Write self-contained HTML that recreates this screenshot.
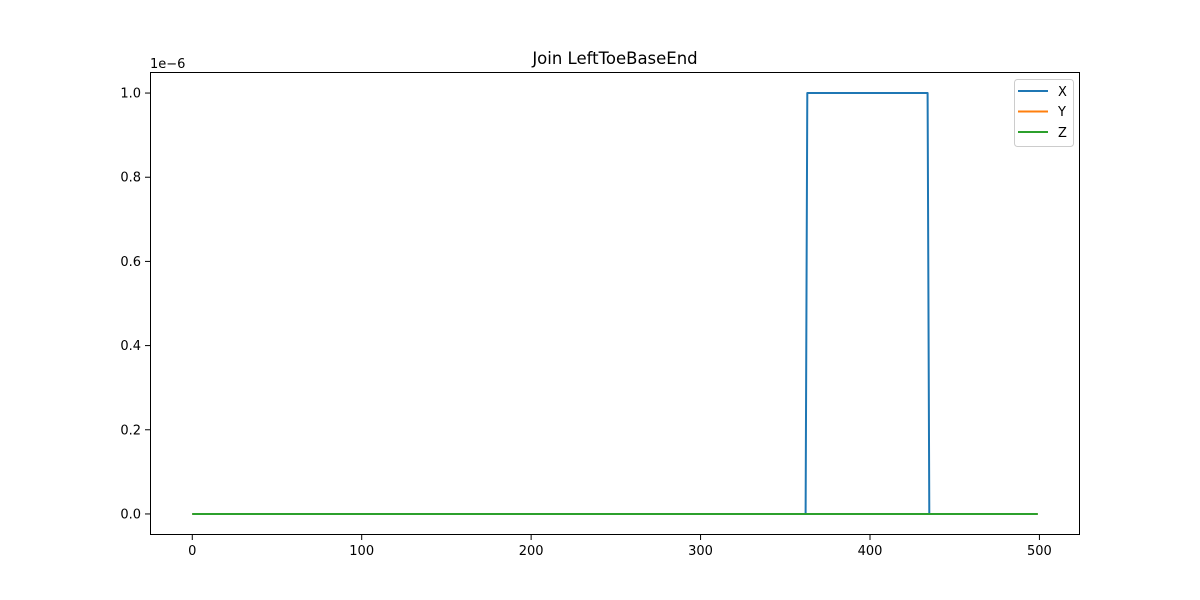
<!DOCTYPE html>
<html><head><meta charset="utf-8"><style>
body{margin:0;background:#fff}
svg{display:block;font-family:"DejaVu Sans","Liberation Sans",sans-serif}
</style></head><body>
<svg id="chart" width="1200" height="600">
<rect width="1200" height="600" fill="#fff"/>
<text x="615" y="64" font-size="16.5" text-anchor="middle">Join LeftToeBaseEnd</text>
<g id="grid"></g>
<g id="series"></g>
<rect x="150.5" y="72.5" width="929" height="462" fill="none" stroke="#000" stroke-width="1"/>
<text x="150" y="68" font-size="13">1e−6</text>
<g>
<rect x="1014.5" y="79.5" width="59" height="67" rx="3" fill="#fff" fill-opacity="0.8" stroke="#ccc"/>
<g><line x1="1018" x2="1048" y1="91" y2="91" stroke="#1f77b4" stroke-width="2"/><text x="1058" y="96" font-size="13">X</text></g>
<g><line x1="1018" x2="1048" y1="111.5" y2="111.5" stroke="#ff7f0e" stroke-width="2"/><text x="1058" y="116" font-size="13">Y</text></g>
<g><line x1="1018" x2="1048" y1="132" y2="132" stroke="#2ca02c" stroke-width="2"/><text x="1058" y="137" font-size="13">Z</text></g>
</g>
</svg>
<script>
const xTicks=[0,100,200,300,400,500];
const yTicks=[0.0,0.2,0.4,0.6,0.8,1.0];
const yTickLabels=["0.0","0.2","0.4","0.6","0.8","1.0"];
const xFrames=[0,362,363,434,435,499];
const xValues=[0,0,1,1,0,0];
const yFrames=[0,499];
const yValues=[0,0];
const zFrames=[0,499];
const zValues=[0,0];
const NS="http://www.w3.org/2000/svg";
const L=150,R=1080,T=72,B=535;
const xmin=-24.95,xmax=523.95,ymin=-0.05,ymax=1.05;
const sx=v=>L+(v-xmin)/(xmax-xmin)*(R-L);
const sy=v=>B-(v-ymin)/(ymax-ymin)*(B-T);
const grid=document.getElementById('grid');
function mk(tag,attrs,parent){const e=document.createElementNS(NS,tag);for(const k in attrs)e.setAttribute(k,attrs[k]);parent.appendChild(e);return e;}
xTicks.forEach(t=>{
  const g=mk('g',{},grid);
  
  
  mk('line',{x1:sx(t),x2:sx(t),y1:B,y2:B+5,stroke:'#000'},g);
  const tx=mk('text',{x:sx(t),y:B+20,'font-size':13,'text-anchor':'middle'},g);tx.textContent=t;
});
yTicks.forEach((t,i)=>{
  const g=mk('g',{},grid);
  
  
  mk('line',{x1:L-5,x2:L,y1:sy(t),y2:sy(t),stroke:'#000'},g);
  const tx=mk('text',{x:L-9,y:sy(t)+4.5,'font-size':13,'text-anchor':'end'},g);tx.textContent=yTickLabels[i];
});
const ser=document.getElementById('series');
[[xFrames,xValues,'#1f77b4','series-x'],[yFrames,yValues,'#ff7f0e','series-y'],[zFrames,zValues,'#2ca02c','series-z']].forEach(([f,v,c,n])=>{
  const p=mk('polyline',{points:f.map((x,i)=>sx(x)+','+sy(v[i])).join(' '),fill:'none',stroke:c,'stroke-width':2,'stroke-linejoin':'round'},ser);
  
  
});
</script>
</body></html>
